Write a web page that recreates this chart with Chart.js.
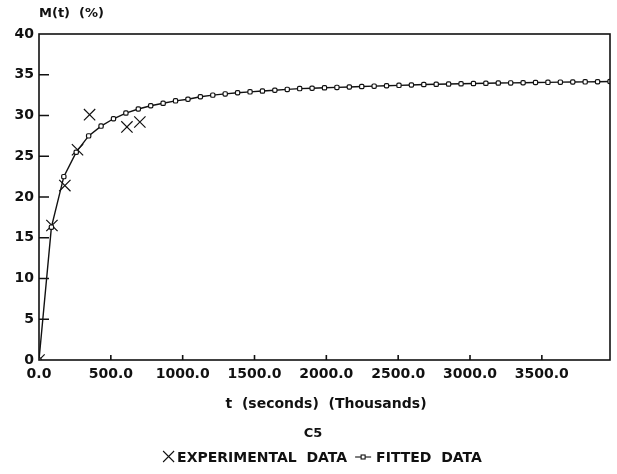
<!DOCTYPE html>
<html>
<head>
<meta charset="utf-8">
<script src="https://cdn.jsdelivr.net/npm/chart.js@4/dist/chart.umd.min.js"></script>
<style>
    body { margin: 0; background: #fff; }
    #chart { display: block; }
</style>
</head>
<body>
<canvas id="chart" width="617" height="474"></canvas>
<script>
// t (thousands of seconds), one point per day
const fittedT = [0, 86.4, 172.8, 259.2, 345.6, 432, 518.4, 604.8, 691.2, 777.6, 864, 950.4,
    1036.8, 1123.2, 1209.6, 1296, 1382.4, 1468.8, 1555.2, 1641.6, 1728, 1814.4, 1900.8,
    1987.2, 2073.6, 2160, 2246.4, 2332.8, 2419.2, 2505.6, 2592, 2678.4, 2764.8, 2851.2,
    2937.6, 3024, 3110.4, 3196.8, 3283.2, 3369.6, 3456, 3542.4, 3628.8, 3715.2, 3801.6,
    3888, 3974.4];
const fittedM = [0, 16.3, 22.5, 25.5, 27.5, 28.7, 29.6, 30.3, 30.8, 31.2, 31.5, 31.8,
    32.0, 32.3, 32.5, 32.65, 32.8, 32.9, 33.0, 33.1, 33.2, 33.3, 33.35,
    33.4, 33.45, 33.5, 33.55, 33.6, 33.65, 33.7, 33.75, 33.8, 33.83, 33.86,
    33.89, 33.92, 33.95, 33.98, 34.0, 34.02, 34.05, 34.07, 34.09, 34.11, 34.13,
    34.15, 34.17];

const expT = [0, 90, 180, 268, 352, 612, 702];
const expM = [0, 16.5, 21.4, 25.8, 30.1, 28.6, 29.2];

const xTicks = [0, 500, 1000, 1500, 2000, 2500, 3000, 3500];
const yTicks = [0, 5, 10, 15, 20, 25, 30, 35, 40];

const FONT = "'DejaVu Sans', sans-serif";
const INK = '#111';

// рамка, внутренние засечки и подписи
const decor = {
    id: 'decor',
    afterDraw(chart) {
        const { ctx, chartArea: a, scales } = chart;
        ctx.save();
        ctx.strokeStyle = INK;
        ctx.lineWidth = 1.6;
        ctx.strokeRect(a.left, a.top, a.right - a.left, a.bottom - a.top);

        ctx.beginPath();
        yTicks.slice(1, -1).forEach(v => {
            const y = scales.y.getPixelForValue(v);
            ctx.moveTo(a.left, y);
            ctx.lineTo(a.left + 10, y);
        });
        xTicks.slice(1).forEach(v => {
            const x = scales.x.getPixelForValue(v);
            ctx.moveTo(x, a.bottom);
            ctx.lineTo(x, a.bottom - 5);
        });
        ctx.stroke();

        ctx.fillStyle = INK;
        ctx.textBaseline = 'middle';
        ctx.font = 'bold 13px ' + FONT;
        ctx.textAlign = 'left';
        ctx.fillText('M(t)  (%)', a.left, 14);

        ctx.textAlign = 'center';
        ctx.font = 'bold 14px ' + FONT;
        ctx.fillText('t  (seconds)  (Thousands)', 326, 404);
        ctx.font = 'bold 13px ' + FONT;
        ctx.fillText('C5', 313, 434);

        // легенда
        ctx.font = 'bold 14px ' + FONT;
        const y = 457;
        const t1 = 'EXPERIMENTAL  DATA';
        const t2 = 'FITTED  DATA';
        const w1 = ctx.measureText(t1).width;
        const w2 = ctx.measureText(t2).width;
        const total = 15 + w1 + 8 + 18 + 3 + w2;
        let x = 322 - total / 2;
        ctx.lineWidth = 1.1;
        ctx.beginPath();
        ctx.moveTo(x + 1, y - 6); ctx.lineTo(x + 12, y + 5);
        ctx.moveTo(x + 12, y - 6); ctx.lineTo(x + 1, y + 5);
        ctx.stroke();
        x += 15;
        ctx.textAlign = 'left';
        ctx.fillText(t1, x, y + 1);
        x += w1 + 8;
        ctx.beginPath();
        ctx.moveTo(x, y); ctx.lineTo(x + 16, y);
        ctx.stroke();
        ctx.fillStyle = '#fff';
        ctx.fillRect(x + 6, y - 2, 4, 4);
        ctx.strokeRect(x + 6, y - 2, 4, 4);
        ctx.fillStyle = INK;
        x += 18 + 3;
        ctx.fillText(t2, x, y + 1);
        ctx.restore();
    }
};

new Chart(document.getElementById('chart'), {
    type: 'scatter',
    data: {
        datasets: [
            {
                label: 'FITTED DATA',
                data: fittedT.map((t, i) => ({ x: t, y: fittedM[i] })),
                showLine: true,
                borderColor: INK,
                borderWidth: 1.4,
                pointStyle: 'rectRounded',
                pointRadius: 2.5,
                pointBorderWidth: 1.2,
                pointBackgroundColor: '#fff',
                pointBorderColor: INK
            },
            {
                label: 'EXPERIMENTAL DATA',
                data: expT.map((t, i) => ({ x: t, y: expM[i] })),
                showLine: false,
                pointStyle: 'crossRot',
                pointRadius: 8,
                pointBorderWidth: 1.2,
                pointBorderColor: INK
            }
        ]
    },
    options: {
        responsive: false,
        animation: false,
        devicePixelRatio: 1,
        layout: { autoPadding: false, padding: { top: 34, right: 7, left: 0, bottom: 0 } },
        plugins: {
            legend: { display: false },
            tooltip: { enabled: false }
        },
        scales: {
            x: {
                type: 'linear',
                min: 0,
                max: 3974.4,
                grid: { display: false, drawTicks: false },
                border: { display: false },
                afterBuildTicks: s => { s.ticks = xTicks.map(v => ({ value: v })); },
                afterFit: s => { s.height = 114; },
                ticks: {
                    autoSkip: false,
                    maxRotation: 0,
                    padding: 6,
                    color: INK,
                    font: { family: FONT, size: 14, weight: 'bold' },
                    callback: v => v.toFixed(1)
                }
            },
            y: {
                min: 0,
                max: 40,
                grid: { display: false, drawTicks: false },
                border: { display: false },
                afterBuildTicks: s => { s.ticks = yTicks.map(v => ({ value: v })); },
                afterFit: s => { s.width = 39; },
                ticks: {
                    padding: 5,
                    color: INK,
                    font: { family: FONT, size: 14, weight: 'bold' },
                    callback: v => String(v)
                }
            }
        }
    },
    plugins: [decor]
});
</script>
</body>
</html>
